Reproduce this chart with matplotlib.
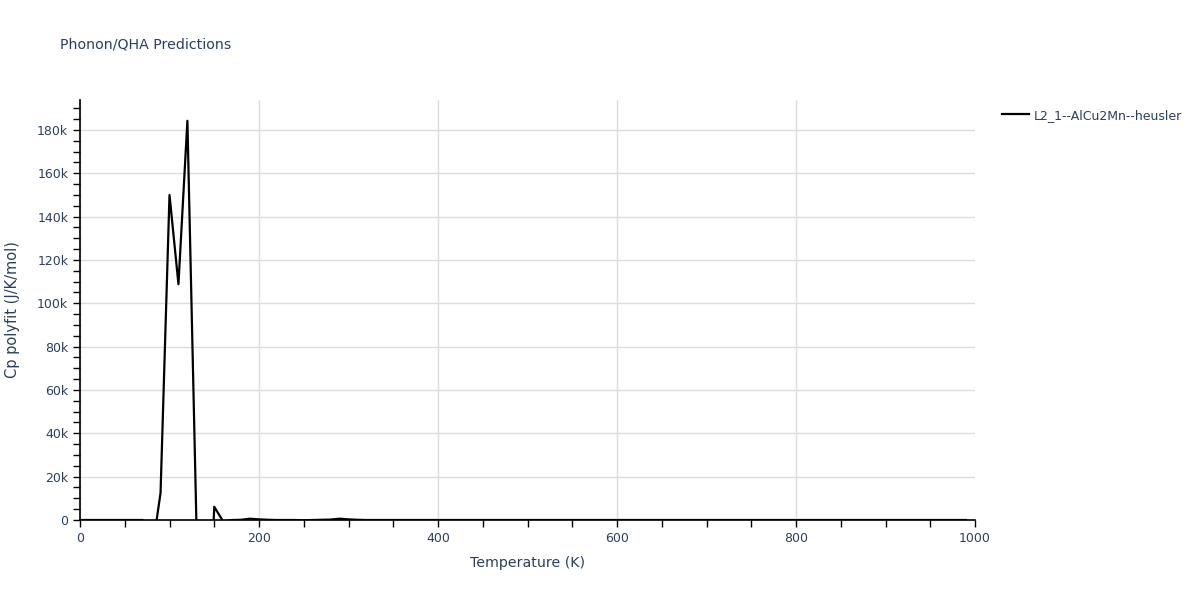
import numpy as np
import matplotlib.pyplot as plt
from matplotlib.ticker import MultipleLocator, FuncFormatter

# temperature grid (K) and Cp polyfit values (J/K/mol)
temps = list(range(0, 1000, 10))
cp_head = [0, 0, 0, 0, 0, 0, 0, 0, -16000, 12500,
           150000, 108800, 184200, 0, -90000, 6100, -700, 0, 100, 600,
           300, 100, 0, 0, 0, -100, 0, 100, 200, 600,
           300, 100, 0]
cp_polyfit = cp_head + [0] * (len(temps) - len(cp_head))

series_name = 'L2_1--AlCu2Mn--heusler'
title = 'Phonon/QHA Predictions'
xlabel = 'Temperature (K)'
ylabel = 'Cp polyfit (J/K/mol)'

plt.rcParams['font.family'] = ['DejaVu Sans']
text_col = '#2a3f5f'
grid_col = '#dcdcdc'

fig = plt.figure(figsize=(12, 6), dpi=100)
ax = fig.add_axes([80/1200, 80/600, 895/1200, 420/600])

ax.plot(temps, cp_polyfit, color='black', lw=1.6, label=series_name, zorder=3)

ax.set_xlim(0, 1000)
ax.set_ylim(0, 193800)

ax.xaxis.set_major_locator(MultipleLocator(200))
ax.xaxis.set_minor_locator(MultipleLocator(50))
ax.yaxis.set_major_locator(MultipleLocator(20000))
ax.yaxis.set_minor_locator(MultipleLocator(5000))
ax.yaxis.set_major_formatter(FuncFormatter(lambda v, p: '0' if v == 0 else f'{v/1000:g}k'))

ax.grid(True, which='major', color=grid_col, lw=1)
ax.set_axisbelow(True)
for s in ['top', 'right']:
    ax.spines[s].set_visible(False)
for s in ['left', 'bottom']:
    ax.spines[s].set_color('black')
    ax.spines[s].set_linewidth(1.2)
    ax.spines[s].set_zorder(4)

ax.tick_params(which='both', direction='out', length=5, width=1, color='black',
               labelcolor=text_col, labelsize=9)

ax.set_xlabel(xlabel, fontsize=10.2, color=text_col, labelpad=8)
ax.set_ylabel(ylabel, fontsize=10.5, color=text_col, labelpad=12.5)

fig.text(60/1200, 1 - 45/600, title, fontsize=10.2, color=text_col, va='center', ha='left')

ax.legend(loc='upper left', bbox_to_anchor=(1.02, 1.0), frameon=False, fontsize=9,
          labelcolor=text_col, handlelength=2.2, handletextpad=0.4, borderaxespad=0.3)

fig.canvas.draw()
# no gridline on the right edge (x = 1000)
for t, gl in zip(ax.get_xticks(), ax.get_xgridlines()):
    if t >= 1000:
        gl.set_visible(False)

fig.savefig('out.png', dpi=100)
